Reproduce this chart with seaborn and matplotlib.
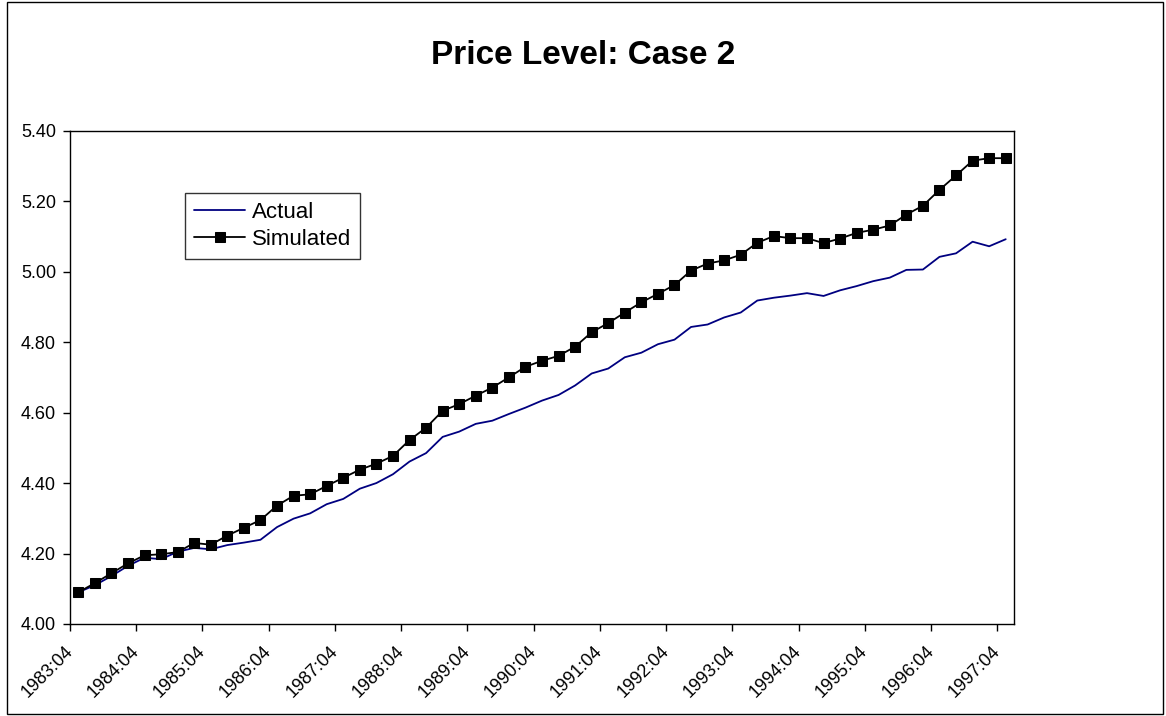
import numpy as np
import pandas as pd
import matplotlib
matplotlib.use("Agg")
import matplotlib.pyplot as plt
from matplotlib.patches import Rectangle
import seaborn as sns

# quarterly categories 1983:04 .. 1997:04
quarters = [f"{y}:{q:02d}" for y in range(1983, 1998) for q in (1, 2, 3, 4)][3:]
tick_labels = ["1983:04", "1984:04", "1985:04", "1986:04", "1987:04", "1988:04",
               "1989:04", "1990:04", "1991:04", "1992:04", "1993:04", "1994:04",
               "1995:04", "1996:04", "1997:04"]

actual = [4.090, 4.110, 4.136, 4.165, 4.188, 4.184, 4.205, 4.216, 4.212, 4.224,
          4.231, 4.239, 4.275, 4.299, 4.314, 4.340, 4.355, 4.384, 4.400, 4.425,
          4.461, 4.485, 4.531, 4.546, 4.568, 4.577, 4.596, 4.614, 4.634, 4.650,
          4.677, 4.711, 4.725, 4.757, 4.770, 4.794, 4.807, 4.843, 4.850, 4.870,
          4.884, 4.918, 4.926, 4.932, 4.939, 4.931, 4.947, 4.959, 4.973, 4.983,
          5.005, 5.006, 5.042, 5.052, 5.085, 5.072, 5.092]

simulated = [4.090, 4.116, 4.144, 4.172, 4.195, 4.198, 4.204, 4.230, 4.225, 4.251,
             4.273, 4.295, 4.336, 4.364, 4.368, 4.392, 4.415, 4.438, 4.455, 4.477,
             4.522, 4.557, 4.605, 4.624, 4.648, 4.671, 4.700, 4.730, 4.747, 4.761,
             4.787, 4.828, 4.854, 4.884, 4.913, 4.937, 4.962, 5.003, 5.023, 5.032,
             5.048, 5.082, 5.101, 5.095, 5.095, 5.081, 5.094, 5.110, 5.119, 5.131,
             5.162, 5.187, 5.232, 5.273, 5.315, 5.322, 5.322]

df = pd.DataFrame({"pos": np.arange(len(quarters)), "quarter": quarters,
                   "Actual": actual, "Simulated": simulated})

sns.set_style("ticks")
plt.rcParams['font.family'] = ['Liberation Sans', 'DejaVu Sans']
plt.rcParams['text.color'] = 'black'

fig = plt.figure(figsize=(11.66, 7.16), dpi=100)
ax = fig.add_axes([70 / 1166, 1 - 624 / 716, 944 / 1166, (624 - 130.7) / 716])

sns.lineplot(data=df, x="pos", y="Actual", color="#000080", linewidth=1.3,
             label="Actual", ax=ax)
sns.lineplot(data=df, x="pos", y="Simulated", color="black", linewidth=1.3,
             marker="s", markersize=7, markeredgecolor="black",
             label="Simulated", ax=ax)

ax.set_xlim(-0.5, len(quarters) - 0.5)
ax.set_ylim(4.0, 5.4)
ax.set_yticks(np.arange(4.0, 5.41, 0.2))
ax.set_yticklabels([f"{v:.2f}" for v in np.arange(4.0, 5.41, 0.2)], fontsize=13)
ax.set_xticks(np.arange(len(tick_labels)) * 4 - 0.5)
ax.set_xticklabels(tick_labels, rotation=45, ha="right", va="center",
                   rotation_mode="anchor", fontsize=13)
ax.set_xlabel("")
ax.set_ylabel("")
ax.tick_params(axis="both", direction="out", length=5, width=1, color="black",
               labelcolor="black", pad=5)
ax.tick_params(axis="x", pad=13)
for s in ax.spines.values():
    s.set_visible(True)
    s.set_color("black")
    s.set_linewidth(1)

leg = ax.legend(loc="upper left", bbox_to_anchor=(0.122, 0.873), borderaxespad=0,
                frameon=True, fancybox=False, fontsize=16, handlelength=2.3,
                handletextpad=0.3, borderpad=0.4, labelspacing=0.25)
leg.get_frame().set_edgecolor("black")
leg.get_frame().set_linewidth(1)

fig.text(0.5, 1 - 55 / 716, "Price Level: Case 2", ha="center", va="center",
         fontsize=24, fontweight="bold", color="black")

fig.patches.append(Rectangle((7 / 1166, 2 / 716), 1156 / 1166, 712 / 716,
                             transform=fig.transFigure, fill=False,
                             edgecolor="black", linewidth=1))

fig.savefig("out.png", dpi=100)
